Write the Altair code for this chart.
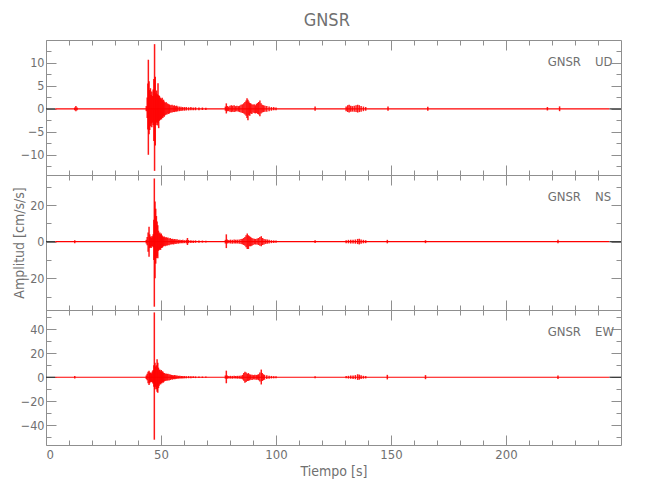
import altair as alt
import pandas as pd

TITLE = "GNSR"
STATION = "GNSR"
COMPONENTS = ["UD", "NS", "EW"]
Y_TITLE = "Amplitud [cm/s/s]"
X_TITLE = "Tiempo [s]"

X_DOMAIN = [0, 250]
X_MAJOR = [0, 50, 100, 150, 200]
X_MINOR = [10, 20, 30, 40, 60, 70, 80, 90, 110, 120, 130, 140, 160, 170, 180, 190, 210, 220, 230, 240]

Y_DOMAINS = [[-14.4, 15.0], [-37.3, 36.4], [-56.4, 56.0]]
Y_MAJOR = [[-10, -5, 0, 5, 10], [-20, 0, 20], [-40, -20, 0, 20, 40]]
Y_MINOR = [[-12.5, -7.5, -2.5, 2.5, 7.5, 12.5], [-30, -10, 10, 30], [-50, -30, -10, 10, 30, 50]]

# (time s, upper envelope, lower envelope)
UD_SIGNAL = [
    (12.5, 0.3, -0.3), (13.0, 0.6, -0.5), (13.5, 0.3, -0.3),
    (43.6, 0.6, -0.5), (44.0, 2.5, -2.0), (44.3, 5.5, -4.5), (44.5, 10.7, -10.0), (44.8, 6.0, -5.5),
    (45.1, 4.1, -4.6), (45.4, 4.5, -3.8), (45.7, 3.0, -3.2), (46.0, 3.8, -4.0), (46.3, 2.8, -3.0),
    (46.6, 4.2, -3.5), (46.9, 6.5, -7.0), (47.2, 14.1, -13.5), (47.5, 7.0, -8.0), (47.8, 3.4, -3.5),
    (48.1, 4.0, -3.0), (48.4, 3.2, -3.6), (48.7, 5.6, -3.0), (49.0, 3.0, -4.2), (49.3, 2.8, -2.6),
    (49.6, 2.5, -2.4), (49.9, 2.3, -2.2), (50.2, 2.1, -2.3), (50.5, 2.4, -1.9), (50.8, 1.8, -2.0),
    (51.1, 2.0, -1.6), (51.4, 1.6, -1.7), (51.8, 1.3, -1.4), (52.2, 1.5, -1.2), (52.6, 1.2, -1.2),
    (53.0, 1.1, -1.0), (53.4, 1.0, -1.1), (53.8, 0.9, -0.9), (54.3, 0.8, -0.8), (54.8, 0.9, -0.8),
    (55.3, 0.7, -0.7), (55.8, 0.8, -0.7), (56.3, 0.6, -0.6), (56.8, 0.7, -0.6), (57.3, 0.5, -0.5),
    (58.0, 0.5, -0.5), (58.7, 0.45, -0.45), (59.4, 0.4, -0.4), (60.2, 0.4, -0.4), (61.0, 0.4, -0.35),
    (62.0, 0.35, -0.35), (63.0, 0.4, -0.3), (64.0, 0.3, -0.3), (65.0, 0.35, -0.3), (66.5, 0.3, -0.3),
    (68.0, 0.3, -0.25), (69.5, 0.25, -0.25),
    (78.0, 0.5, -0.4), (78.4, 1.2, -1.0), (78.8, 0.6, -0.5), (79.4, 0.5, -0.5), (80.0, 0.7, -0.6),
    (80.6, 0.8, -0.7), (81.2, 0.7, -0.6), (81.8, 0.8, -0.7), (82.4, 0.6, -0.6), (83.0, 0.7, -0.5),
    (83.6, 0.6, -0.6), (84.2, 0.7, -0.7), (84.8, 0.9, -0.8), (85.4, 1.0, -0.9), (86.0, 1.2, -1.0),
    (86.5, 1.5, -1.2), (87.0, 1.8, -1.5), (87.4, 2.3, -2.0), (87.8, 2.0, -2.5), (88.2, 1.6, -1.4),
    (88.6, 1.3, -1.5), (89.0, 1.2, -1.0), (89.5, 1.0, -1.1), (90.0, 0.9, -0.8), (90.5, 1.0, -0.9),
    (91.0, 0.8, -1.0), (91.5, 1.1, -0.9), (92.0, 1.3, -1.1), (92.5, 1.5, -1.2), (93.0, 1.8, -1.6),
    (93.5, 1.2, -1.0), (94.0, 0.9, -0.8), (94.6, 0.8, -0.7), (95.2, 0.7, -0.6), (96.0, 0.6, -0.6),
    (97.0, 0.5, -0.5), (98.0, 0.4, -0.4), (99.0, 0.4, -0.3), (100.0, 0.3, -0.3),
    (117.0, 0.5, -0.4), (130.5, 0.5, -0.5), (131.2, 0.8, -0.7), (131.8, 0.9, -0.8), (132.5, 0.7, -0.6),
    (133.2, 0.6, -0.6), (134.0, 0.7, -0.6), (134.8, 0.8, -0.7), (135.5, 0.9, -0.8), (136.2, 0.8, -0.7),
    (137.0, 0.6, -0.6), (138.0, 0.5, -0.5), (139.0, 0.4, -0.4), (148.7, 0.5, -0.4), (166.0, 0.45, -0.4),
    (218.0, 0.4, -0.35), (223.3, 0.55, -0.5),
]

NS_SIGNAL = [
    (12.5, 0.8, -0.8),
    (43.6, 1.0, -1.0), (44.0, 2.5, -2.0), (44.4, 5.0, -5.5), (44.8, 8.2, -8.2), (45.1, 4.0, -3.5),
    (45.4, 2.5, -3.0), (45.7, 3.0, -3.5), (46.0, 2.0, -2.5), (46.3, 3.0, -2.5), (46.6, 4.0, -3.0),
    (46.9, 12.0, -10.0), (47.1, 34.5, -35.5), (47.4, 22.0, -20.0), (47.7, 18.0, -12.0), (48.0, 14.0, -9.0),
    (48.3, 11.0, -8.0), (48.6, 9.0, -9.0), (48.9, 6.0, -5.0), (49.2, 4.5, -4.5), (49.5, 5.0, -4.0),
    (49.8, 4.0, -4.5), (50.1, 4.5, -3.5), (50.4, 3.5, -3.5), (50.7, 3.0, -3.0), (51.0, 2.5, -2.5),
    (51.4, 2.8, -2.2), (51.8, 2.2, -2.5), (52.2, 2.5, -2.0), (52.6, 2.0, -2.2), (53.0, 2.3, -1.8),
    (53.5, 1.8, -2.0), (54.0, 2.0, -1.6), (54.5, 1.5, -1.5), (55.0, 1.6, -1.4), (55.5, 1.3, -1.5),
    (56.0, 1.5, -1.2), (56.5, 1.2, -1.3), (57.0, 1.3, -1.0), (57.6, 1.0, -1.1), (58.2, 1.1, -0.9),
    (58.8, 0.9, -0.9), (59.5, 1.0, -0.8), (60.2, 0.8, -0.8), (61.0, 1.0, -0.9), (61.5, 2.0, -1.8),
    (62.0, 0.9, -0.8), (63.0, 0.8, -0.7), (64.0, 0.7, -0.7), (65.0, 0.7, -0.6), (66.5, 0.6, -0.6),
    (68.0, 0.6, -0.5), (69.5, 0.5, -0.5),
    (78.0, 1.0, -1.0), (78.4, 4.0, -3.5), (78.8, 1.2, -1.0), (79.5, 0.9, -0.9), (80.2, 1.1, -1.0),
    (81.0, 1.0, -1.1), (81.8, 1.2, -1.0), (82.5, 1.0, -1.0), (83.2, 1.1, -1.0), (84.0, 1.2, -1.1),
    (84.8, 1.4, -1.3), (85.4, 1.6, -1.5), (86.0, 2.0, -1.8), (86.5, 2.5, -2.2), (87.0, 3.5, -3.0),
    (87.5, 4.5, -4.0), (88.0, 3.5, -4.0), (88.5, 3.0, -2.5), (89.0, 2.5, -2.5), (89.5, 2.0, -2.2),
    (90.0, 1.8, -1.8), (90.6, 1.6, -1.5), (91.2, 1.5, -1.6), (91.8, 1.8, -1.6), (92.4, 2.0, -1.8),
    (93.0, 2.5, -2.2), (93.6, 3.0, -2.5), (94.2, 2.0, -1.8), (94.8, 1.5, -1.5), (95.5, 1.3, -1.2),
    (96.2, 1.2, -1.1), (97.0, 1.0, -1.0), (98.0, 0.8, -0.8), (99.0, 0.7, -0.7), (100.0, 0.6, -0.6),
    (117.0, 0.8, -0.7), (130.5, 0.8, -0.8), (131.5, 1.0, -0.9), (132.5, 1.1, -1.0), (133.5, 1.0, -1.0),
    (134.5, 1.2, -1.1), (135.5, 1.5, -1.3), (136.2, 1.6, -1.5), (137.0, 1.2, -1.1), (138.0, 1.0, -0.9),
    (139.0, 0.8, -0.8), (148.4, 1.0, -0.9), (165.0, 0.8, -0.8), (222.6, 1.0, -0.9),
]

EW_SIGNAL = [
    (12.5, 1.0, -1.0),
    (43.6, 1.5, -1.5), (44.0, 3.0, -2.5), (44.4, 4.5, -5.0), (44.8, 5.5, -6.4), (45.1, 4.0, -5.0),
    (45.4, 3.5, -4.0), (45.7, 4.0, -3.5), (46.0, 3.0, -4.0), (46.3, 5.0, -4.5), (46.6, 6.0, -5.5),
    (46.9, 10.0, -8.0), (47.1, 54.0, -52.0), (47.4, 12.0, -10.0), (47.7, 9.0, -8.0), (48.0, 10.0, -10.0),
    (48.3, 15.0, -12.0), (48.6, 12.0, -13.0), (48.9, 8.0, -9.0), (49.2, 6.0, -7.0), (49.5, 6.5, -5.5),
    (49.8, 5.0, -6.0), (50.1, 6.0, -5.0), (50.4, 4.5, -5.0), (50.7, 5.0, -4.0), (51.0, 4.0, -4.5),
    (51.4, 3.5, -3.5), (51.8, 3.0, -3.2), (52.2, 3.2, -2.8), (52.6, 2.8, -3.0), (53.0, 3.0, -2.5),
    (53.5, 2.5, -2.6), (54.0, 2.2, -2.2), (54.5, 2.0, -1.8), (55.0, 1.8, -2.0), (55.5, 1.6, -1.5),
    (56.0, 1.8, -1.6), (56.5, 1.4, -1.4), (57.0, 1.5, -1.3), (57.6, 1.2, -1.2), (58.2, 1.3, -1.1),
    (58.8, 1.1, -1.0), (59.5, 1.0, -1.0), (60.2, 1.0, -0.9), (61.0, 0.9, -0.9), (62.0, 1.0, -0.8),
    (63.0, 0.8, -0.8), (64.0, 0.9, -0.7), (65.0, 0.7, -0.7), (66.5, 0.7, -0.6), (68.0, 0.6, -0.6),
    (69.5, 0.6, -0.5),
    (78.0, 1.5, -1.2), (78.4, 5.5, -5.0), (78.8, 1.5, -1.3), (79.5, 1.0, -1.0), (80.2, 1.2, -1.1),
    (81.0, 1.1, -1.2), (81.8, 1.3, -1.1), (82.5, 1.1, -1.0), (83.2, 1.2, -1.2), (84.0, 1.3, -1.2),
    (84.8, 1.5, -1.4), (85.5, 2.0, -1.8), (86.0, 3.5, -3.0), (86.5, 4.5, -4.5), (87.0, 4.0, -4.0),
    (87.5, 3.0, -3.2), (88.0, 3.5, -3.0), (88.5, 2.5, -2.6), (89.0, 2.2, -2.0), (89.6, 2.0, -2.2),
    (90.2, 1.8, -1.8), (90.8, 2.0, -1.9), (91.4, 1.8, -2.0), (92.0, 2.2, -2.0), (92.5, 2.5, -2.4),
    (93.0, 4.0, -3.5), (93.6, 6.4, -6.0), (94.0, 3.5, -3.2), (94.5, 2.5, -2.5), (95.0, 2.0, -2.0),
    (96.0, 1.6, -1.5), (97.0, 1.3, -1.3), (98.0, 1.1, -1.0), (99.0, 0.9, -0.9), (100.0, 0.8, -0.8),
    (117.0, 0.8, -0.8), (130.5, 1.0, -0.9), (131.5, 1.2, -1.1), (132.5, 1.4, -1.2), (133.5, 1.5, -1.4),
    (134.5, 1.8, -1.6), (135.5, 2.5, -2.2), (136.2, 2.2, -2.0), (137.0, 1.6, -1.5), (138.0, 1.2, -1.2),
    (139.0, 1.0, -1.0), (148.4, 2.0, -1.8), (165.0, 1.8, -1.6), (222.6, 1.5, -1.4),
]

SIGNALS = [UD_SIGNAL, NS_SIGNAL, EW_SIGNAL]

# zero line: dark at the trace ends, red where the record runs
BASE_START = [0.0, 4.0, 245.0]
BASE_END = [4.0, 245.0, 250.0]
BASE_KIND = ["k", "r", "k"]

FONT = "Liberation Sans Narrow, DejaVu Sans Condensed, Roboto, sans-serif"
AXIS_GRAY = "#8f8f8f"
TEXT_GRAY = "#707070"
RED = "#ff0000"
W, H = 575, 135


def tick_axis(orient, values, size):
    return alt.Axis(orient=orient, values=values, ticks=True, tickSize=size, offset=-size,
                    labels=False, domain=False, grid=False, title=None,
                    tickColor=AXIS_GRAY, tickWidth=1)


def panel(i):
    xs = alt.Scale(domain=X_DOMAIN, nice=False, zero=False)
    ys = alt.Scale(domain=Y_DOMAINS[i], nice=False, zero=False)
    last = i == 2
    sig = pd.DataFrame(SIGNALS[i], columns=["t", "hi", "lo"])
    dummy = pd.DataFrame({"t": [0.0], "hi": [0.0]})
    base_df = pd.DataFrame({"t0": BASE_START, "t1": BASE_END, "z": [0.0] * 3, "c": BASE_KIND})

    if last:
        xlab = alt.Axis(orient="bottom", values=X_MAJOR, ticks=False, tickSize=0, domain=False,
                        grid=False, labelPadding=3, labelFontSize=13, labelFont=FONT,
                        labelColor=TEXT_GRAY, format="d", title=X_TITLE, titleFont=FONT,
                        titleFontSize=14, titleFontWeight="normal", titleColor=TEXT_GRAY,
                        titlePadding=3)
    else:
        xlab = alt.Axis(orient="bottom", values=X_MAJOR, ticks=False, tickSize=0, domain=False,
                        grid=False, labels=False, title=None)
    ylab_kwargs = dict(orient="left", values=Y_MAJOR[i], ticks=False, tickSize=0, domain=False,
                       grid=False, labelPadding=2, labelFontSize=12.5, labelFont=FONT,
                       labelColor=TEXT_GRAY, format="d")
    if i == 1:
        ylab = alt.Axis(title=Y_TITLE, titleFont=FONT, titleFontSize=14,
                        titleFontWeight="normal", titleColor=TEXT_GRAY, titleX=-20,
                        titleY=H / 2, **ylab_kwargs)
    else:
        ylab = alt.Axis(title=None, **ylab_kwargs)

    baseline = alt.Chart(base_df).mark_rule(strokeWidth=1.2).encode(
        x=alt.X("t0:Q", scale=xs, axis=None), x2="t1:Q",
        y=alt.Y("z:Q", scale=ys, axis=None),
        color=alt.Color("c:N", scale=alt.Scale(domain=["k", "r"], range=["#303030", RED]), legend=None),
    )
    rules = alt.Chart(sig).mark_rule(strokeWidth=1.5, color=RED, opacity=0.9).encode(
        x=alt.X("t:Q", scale=xs, axis=xlab),
        y=alt.Y("hi:Q", scale=ys, axis=ylab), y2="lo:Q",
    )
    axis_layers = []
    for xa, ya in [
        (tick_axis("bottom", X_MAJOR, 10), tick_axis("left", Y_MAJOR[i], 10)),
        (tick_axis("bottom", X_MINOR, 5), tick_axis("left", Y_MINOR[i], 5)),
        (tick_axis("top", X_MAJOR, 10), tick_axis("right", Y_MAJOR[i], 10)),
        (tick_axis("top", X_MINOR, 5), tick_axis("right", Y_MINOR[i], 5)),
    ]:
        axis_layers.append(
            alt.Chart(dummy).mark_point(opacity=0).encode(
                x=alt.X("t:Q", scale=xs, axis=xa), y=alt.Y("hi:Q", scale=ys, axis=ya)
            )
        )
    lab_df = pd.DataFrame({"s": [STATION], "c": [COMPONENTS[i]]})
    st_text = alt.Chart(lab_df).mark_text(align="right", baseline="middle", font=FONT,
                                          fontSize=13, color=TEXT_GRAY).encode(
        x=alt.value(535), y=alt.value(21.5), text="s:N")
    comp_text = alt.Chart(lab_df).mark_text(align="left", baseline="middle", font=FONT,
                                            fontSize=13, color=TEXT_GRAY).encode(
        x=alt.value(549), y=alt.value(21.5), text="c:N")

    return alt.layer(baseline, rules, *axis_layers, st_text, comp_text).resolve_axis(
        x="independent", y="independent"
    ).properties(width=W, height=H)


chart = alt.vconcat(panel(0), panel(1), panel(2), spacing=0, bounds="flush").properties(
    title=alt.TitleParams(text=TITLE, font=FONT, fontSize=18, fontWeight="normal",
                          color=TEXT_GRAY, anchor="middle", offset=9, dx=10),
    padding={"left": 3, "top": 4, "right": 5, "bottom": 5},
).configure_view(stroke=AXIS_GRAY, strokeWidth=1)

chart.save("out.html", embed_options={"renderer": "svg", "actions": False})
